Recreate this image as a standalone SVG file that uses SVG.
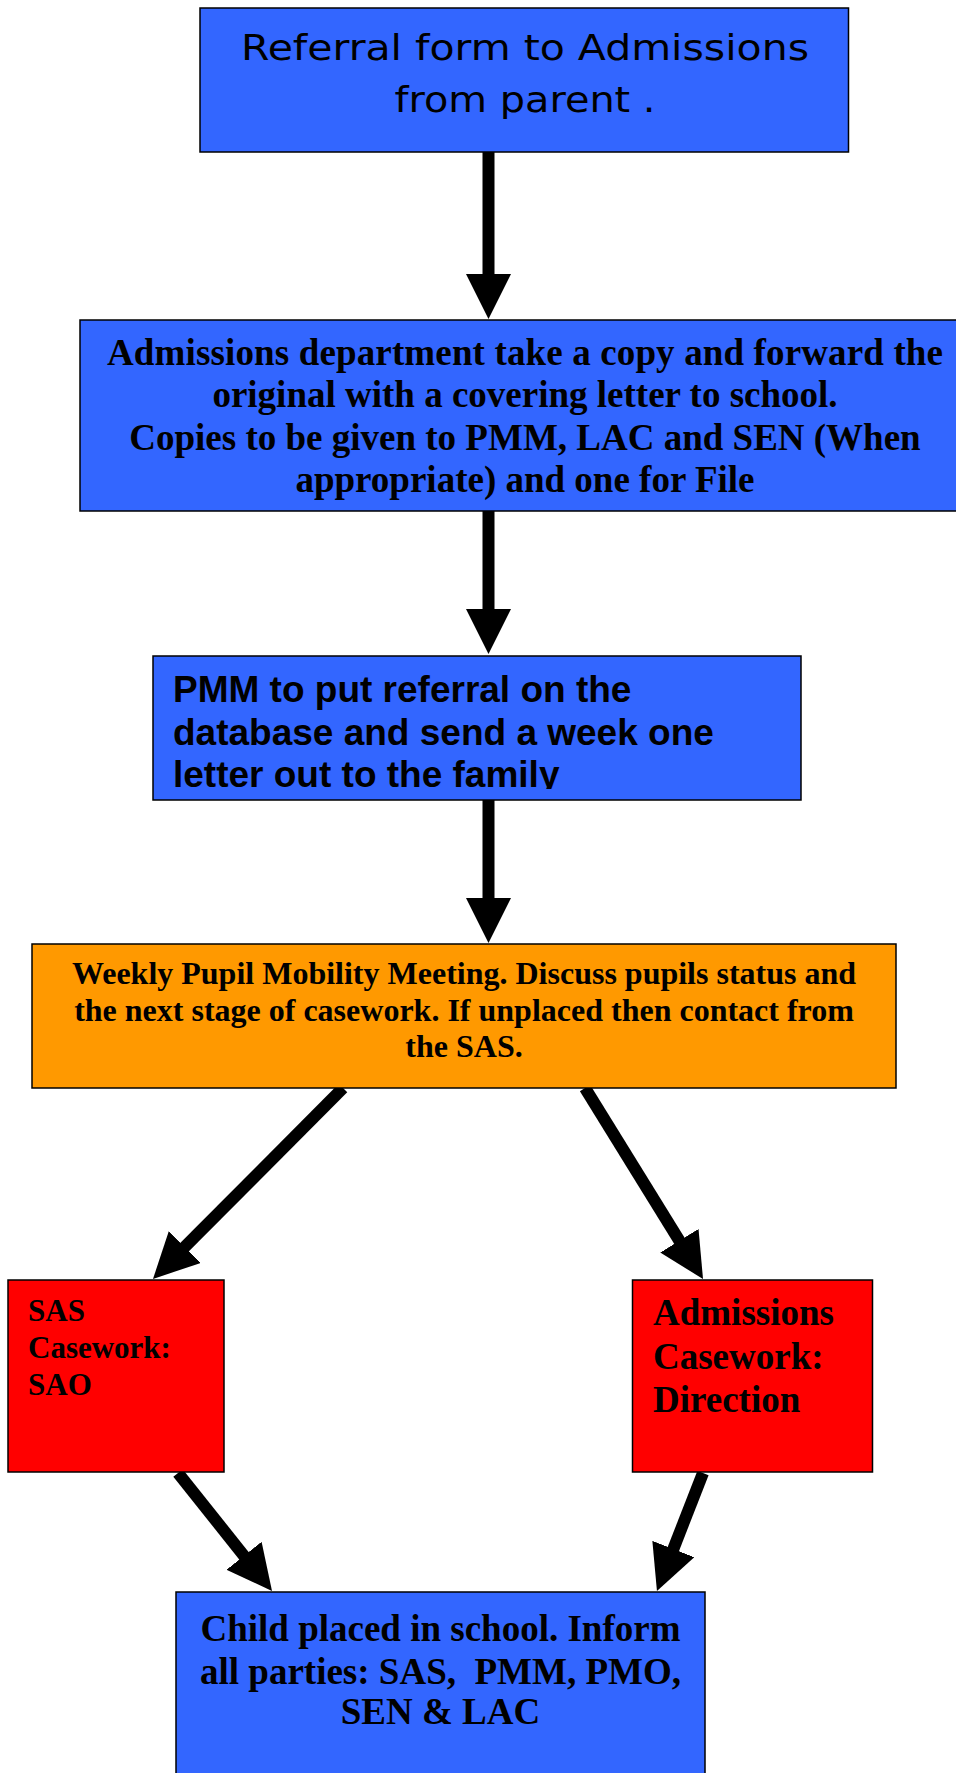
<svg xmlns="http://www.w3.org/2000/svg" width="956" height="1773" viewBox="0 0 956 1773">
  <style>
    .box { stroke: #000; stroke-width: 1.5; }
    .blue { fill: #3366FF; }
    .orange { fill: #FF9900; }
    .red { fill: #FF0000; }
    .serif { font-family: "Liberation Serif", "Times New Roman", serif; font-weight: bold; fill: #000; }
    .sans { font-family: "Liberation Sans", Arial, sans-serif; font-weight: bold; fill: #000; }
    .wide { font-family: "DejaVu Sans", sans-serif; font-weight: normal; fill: #000; }
    .link { stroke: #000; stroke-width: 12; fill: none; marker-end: url(#head); }
  </style>
  <defs>
    <marker id="head" viewBox="0 0 45 45" refX="5" refY="22.5" markerWidth="45" markerHeight="45" markerUnits="userSpaceOnUse" orient="auto">
      <path d="M0,0 L45,22.5 L0,45 z" fill="#000"/>
    </marker>
    <clipPath id="clip-pmm">
      <rect x="153" y="656" width="648" height="133"/>
    </clipPath>
  </defs>

  <rect width="956" height="1773" fill="#fff"/>

  <g id="connectors">
    <line class="link" x1="488.5" y1="152" x2="488.5" y2="279"/>
    <line class="link" x1="488.5" y1="511" x2="488.5" y2="614"/>
    <line class="link" x1="488.5" y1="800" x2="488.5" y2="903"/>
    <line class="link" x1="343" y1="1088" x2="181.2" y2="1250.6"/>
    <line class="link" x1="585" y1="1088" x2="682" y2="1245"/>
    <line class="link" x1="178" y1="1473" x2="247.1" y2="1559.7"/>
    <line class="link" x1="703" y1="1473" x2="671.5" y2="1553.7"/>
  </g>

  <g id="referral">
    <rect class="box blue" x="200" y="8" width="648.5" height="144"/>
    <text class="wide" font-size="36" text-anchor="middle" x="525" y="60" textLength="568" lengthAdjust="spacingAndGlyphs">Referral form to Admissions</text>
    <text class="wide" font-size="36" text-anchor="middle" x="525" y="112" textLength="261" lengthAdjust="spacingAndGlyphs">from parent .</text>
  </g>

  <g id="admissions-dept">
    <rect class="box blue" x="80" y="320" width="890" height="191"/>
    <g class="serif" font-size="37" text-anchor="middle">
      <text x="525" y="365" textLength="836">Admissions department take a copy and forward the</text>
      <text x="525" y="407">original with a covering letter to school.</text>
      <text x="525" y="450">Copies to be given to PMM, LAC and SEN (When</text>
      <text x="525" y="492">appropriate) and one for File</text>
    </g>
  </g>

  <g id="pmm-database">
    <rect class="box blue" x="153" y="656" width="648" height="144"/>
    <g class="sans" font-size="37" clip-path="url(#clip-pmm)">
      <text x="173" y="702">PMM to put referral on the</text>
      <text x="173" y="745">database and send a week one</text>
      <text x="173" y="787">letter out to the family</text>
    </g>
  </g>

  <g id="weekly-meeting">
    <rect class="box orange" x="32" y="944" width="864" height="144"/>
    <g class="serif" font-size="32" text-anchor="middle">
      <text x="464" y="984">Weekly Pupil Mobility Meeting. Discuss pupils status and</text>
      <text x="464" y="1021">the next stage of casework. If unplaced then contact from</text>
      <text x="464" y="1057">the SAS.</text>
    </g>
  </g>

  <g id="sas-casework">
    <rect class="box red" x="8" y="1280" width="216" height="192"/>
    <g class="serif" font-size="31">
      <text x="28" y="1321">SAS</text>
      <text x="28" y="1358">Casework:</text>
      <text x="28" y="1395">SAO</text>
    </g>
  </g>

  <g id="admissions-casework">
    <rect class="box red" x="632.5" y="1280" width="240" height="192"/>
    <g class="serif" font-size="37">
      <text x="653" y="1325">Admissions</text>
      <text x="653" y="1369">Casework:</text>
      <text x="653" y="1412">Direction</text>
    </g>
  </g>

  <g id="child-placed">
    <rect class="box blue" x="176" y="1592" width="529" height="200"/>
    <g class="serif" font-size="37" text-anchor="middle">
      <text x="440.5" y="1641">Child placed in school. Inform</text>
      <text x="440.5" y="1684" xml:space="preserve">all parties: SAS,  PMM, PMO,</text>
      <text x="440.5" y="1724">SEN &amp; LAC</text>
    </g>
  </g>
</svg>
